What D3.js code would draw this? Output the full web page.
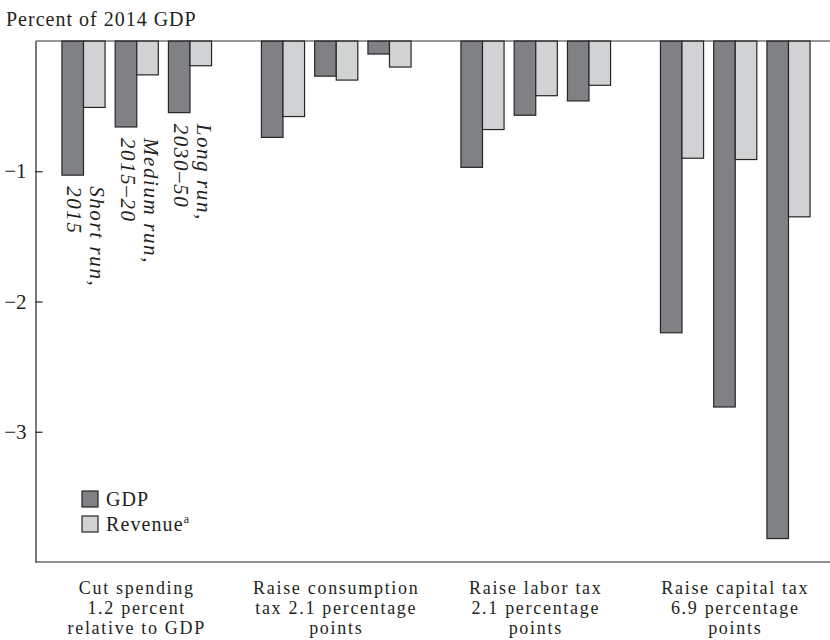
<!DOCTYPE html>
<html lang="en">
<head>
    <meta charset="UTF-8">
    <title>Percent of 2014 GDP</title>
    <script src="https://cdn.jsdelivr.net/npm/d3@7/dist/d3.min.js"></script>
    <style>
        body { margin: 0; background: #fff; }
        text { font-family: "Liberation Serif", "Times New Roman", serif; fill: #231f20; }
    </style>
</head>
<body>
<div id="chart"></div>
<script>
    // policy groups along the x axis (one line per array entry)
    var policies = [
        ["Cut spending", "1.2 percent", "relative to GDP"],
        ["Raise consumption", "tax 2.1 percentage", "points"],
        ["Raise labor tax", "2.1 percentage", "points"],
        ["Raise capital tax", "6.9 percentage", "points"]
    ];
    var periods = ["Short run", "Medium run", "Long run"];
    var periodLabels = [["Short run,", "2015"], ["Medium run,", "2015\u201320"], ["Long run,", "2030\u201350"]];

    // values, percent of 2014 GDP
    var gdp = [
        [-1.03, -0.66, -0.55],
        [-0.74, -0.27, -0.10],
        [-0.97, -0.57, -0.46],
        [-2.24, -2.81, -3.82]
    ];
    var revenue = [
        [-0.51, -0.26, -0.19],
        [-0.58, -0.30, -0.20],
        [-0.68, -0.42, -0.34],
        [-0.90, -0.91, -1.35]
    ];
    var yTicks = [-1, -2, -3];

    var W = 830, H = 640;
    var gdpColor = "#808184", revColor = "#d1d2d4", edge = "#262626";

    var svg = d3.select("#chart").append("svg")
            .attr("width", W)
            .attr("height", H);

    var y = d3.scaleLinear().domain([-4, 0]).range([562, 41]);

    var x0 = d3.scaleBand()
            .domain(d3.range(policies.length))
            .range([37, 835])
            .paddingInner(0.25)
            .paddingOuter(0.125);

    var x1 = d3.scaleBand()
            .domain(d3.range(periods.length))
            .range([0, x0.bandwidth()])
            .paddingInner(0.19);

    var half = x1.bandwidth() / 2;

    // title
    svg.append("text")
            .attr("x", 6)
            .attr("y", 26)
            .style("font-size", "20px")
            .style("letter-spacing", "1px")
            .text("Percent of 2014 GDP");

    // bars
    var groups = svg.selectAll("g.policy")
            .data(policies)
            .enter().append("g")
            .attr("class", "policy")
            .attr("transform", function (d, i) { return "translate(" + x0(i) + ",0)"; });

    groups.each(function (d, i) {
        var g = d3.select(this);
        periods.forEach(function (p, j) {
            g.append("rect")
                    .attr("x", x1(j))
                    .attr("y", y(0))
                    .attr("width", half)
                    .attr("height", y(gdp[i][j]) - y(0))
                    .style("fill", gdpColor)
                    .attr("stroke", edge)
                    .attr("stroke-width", 1.2);
            g.append("rect")
                    .attr("x", x1(j) + half)
                    .attr("y", y(0))
                    .attr("width", half)
                    .attr("height", y(revenue[i][j]) - y(0))
                    .style("fill", revColor)
                    .attr("stroke", edge)
                    .attr("stroke-width", 1.2);
        });
    });

    // rotated period labels under the first group
    periodLabels.forEach(function (lines, j) {
        var cx = x0(0) + x1(j) + half * 1.5;
        var g = svg.append("g")
                .attr("transform", "translate(" + cx + "," + (y(gdp[0][j]) + 11) + ") rotate(90)");
        lines.forEach(function (l, k) {
            g.append("text")
                    .attr("x", 0)
                    .attr("y", 4 + k * 23)
                    .style("font-size", "21px")
                    .style("font-style", "italic")
                    .style("letter-spacing", "1.6px")
                    .text(l);
        });
    });

    // axes
    svg.append("line")
            .attr("x1", 35.5).attr("x2", W)
            .attr("y1", y(0)).attr("y2", y(0))
            .attr("stroke", "#333").attr("stroke-width", 1.2);
    svg.append("line")
            .attr("x1", 35.5).attr("x2", W)
            .attr("y1", y(-4)).attr("y2", y(-4))
            .attr("stroke", "#222").attr("stroke-width", 1.2);

    var yAxis = d3.axisLeft(y)
            .tickValues(yTicks)
            .tickSizeInner(-7)
            .tickSizeOuter(0)
            .tickPadding(9)
            .tickFormat(function (d) { return "\u2212" + Math.abs(d); });

    var ya = svg.append("g")
            .attr("transform", "translate(35.5,0)")
            .call(yAxis);
    ya.select(".domain").attr("stroke", "#222").attr("stroke-width", 1.2);
    ya.selectAll(".tick line").attr("stroke", "#222").attr("stroke-width", 1.2);
    ya.selectAll(".tick text")
            .style("font-family", "'Liberation Serif', 'Times New Roman', serif")
            .style("font-size", "21px")
            .attr("fill", "#231f20");

    // category labels
    policies.forEach(function (lines, i) {
        lines.forEach(function (l, k) {
            svg.append("text")
                    .attr("text-anchor", "middle")
                    .attr("x", x0(i) + x0.bandwidth() / 2)
                    .attr("y", 594 + k * 20)
                    .style("font-size", "18px")
                    .style("letter-spacing", "1.7px")
                    .text(l);
        });
    });

    // legend
    var legend = [["GDP", gdpColor], ["Revenue", revColor]];
    legend.forEach(function (d, k) {
        svg.append("rect")
                .attr("x", 82)
                .attr("y", 491 + k * 25)
                .attr("width", 16)
                .attr("height", 16)
                .style("fill", d[1])
                .attr("stroke", edge)
                .attr("stroke-width", 1.2);
        var t = svg.append("text")
                .attr("x", 106)
                .attr("y", 506 + k * 25)
                .style("font-size", "20px")
                .style("letter-spacing", "1.1px")
                .text(d[0]);
        if (k == 1) {
            t.append("tspan")
                    .attr("dy", -8)
                    .style("font-size", "12px")
                    .text("a");
        }
    });
</script>
</body>
</html>
